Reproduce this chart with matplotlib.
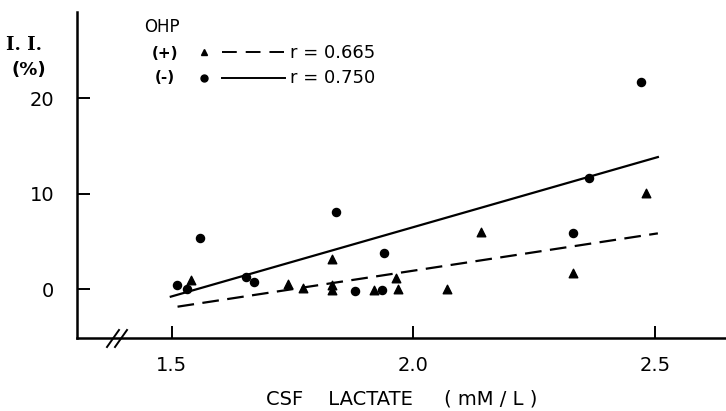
import numpy as np
import matplotlib
matplotlib.use("Agg")
import matplotlib.pyplot as plt
from matplotlib.lines import Line2D

# CSF lactate (mM/L) vs I.I. (%)
ohp_neg_x = [1.510, 1.532, 1.559, 1.653, 1.670, 1.839, 1.880, 1.935, 1.940, 2.331, 2.364, 2.471]
ohp_neg_y = [0.45, 0.0, 5.37, 1.26, 0.76, 8.06, -0.18, -0.07, 3.80, 5.86, 11.62, 21.68]

ohp_pos_x = [1.539, 1.740, 1.771, 1.832, 1.832, 1.832, 1.919, 1.964, 1.969, 2.069, 2.140, 2.331, 2.482]
ohp_pos_y = [0.97, 0.52, 0.10, 3.14, 0.45, -0.07, -0.07, 1.15, 0.0, 0.0, 6.03, 1.68, 10.12]

# regression lines (end points as drawn)
fit_neg_x = [1.498, 2.506]
fit_neg_y = [-0.77, 13.85]
fit_pos_x = [1.512, 2.506]
fit_pos_y = [-1.82, 5.86]

x_ticks = [1.5, 2.0, 2.5]
x_ticklabels = ["1.5", "2.0", "2.5"]
y_ticks = [0, 10, 20]

W, H = 726, 411


def px(x, y):
    # pixel position -> figure fraction
    return x / W, 1 - y / H


fig = plt.figure(figsize=(W / 100, H / 100), dpi=100)
ax = fig.add_axes([76.7 / W, 1 - 338.3 / H, 1 - 76.7 / W, (338.3 - 12) / H])

ax.scatter(ohp_neg_x, ohp_neg_y, marker="o", s=34, color="black", zorder=3)
ax.scatter(ohp_pos_x, ohp_pos_y, marker="^", s=38, color="black", zorder=3)
ax.plot(fit_neg_x, fit_neg_y, color="black", lw=1.6)
ax.plot(fit_pos_x, fit_pos_y, color="black", lw=1.6, linestyle=(0, (7.5, 3.8)))

ax.set_xlim(1.3033, 2.647)
ax.set_ylim(-5.13, 29.04)

for s in ["top", "right"]:
    ax.spines[s].set_visible(False)
for s in ["left", "bottom"]:
    ax.spines[s].set_linewidth(1.8)

ax.set_xticks(x_ticks)
ax.set_xticklabels(x_ticklabels)
ax.set_yticks(y_ticks)
ax.tick_params(axis="both", direction="in", length=9, width=1.4, labelsize=14)
ax.tick_params(axis="x", pad=13)
ax.tick_params(axis="y", pad=16)

ax.set_xlabel("CSF    LACTATE     ( mM / L )", fontsize=14, labelpad=10)

# axis break mark on x axis
for dx in (-4, 4):
    x0, y0 = px(117 + dx - 6, 347)
    x1, y1 = px(117 + dx + 6, 330)
    fig.add_artist(Line2D([x0, x1], [y0, y1], color="black", lw=1.4))

# y label
fig.text(*px(24, 45), "I. I.", fontsize=13, family="DejaVu Serif",
         weight="bold", ha="center", va="center")
fig.text(*px(29, 70), "(%)", fontsize=13, weight="bold", ha="center", va="center")

# legend
fig.text(*px(144, 27), "OHP", fontsize=12, ha="left", va="center")
fig.text(*px(165, 53), "(+)", fontsize=11, weight="semibold", ha="center", va="center")
fig.text(*px(165, 77), "(-)", fontsize=11, weight="semibold", ha="center", va="center")
fig.add_artist(Line2D([px(204, 0)[0]], [px(0, 52)[1]], marker="^", markersize=5,
                      color="black", linestyle="none"))
fig.add_artist(Line2D([px(204, 0)[0]], [px(0, 78)[1]], marker="o", markersize=5,
                      color="black", linestyle="none"))
fig.add_artist(Line2D([px(222, 0)[0], px(284, 0)[0]], [px(0, 52)[1]] * 2,
                      color="black", lw=1.4, linestyle=(0, (7.6, 4.6))))
fig.add_artist(Line2D([px(222, 0)[0], px(285, 0)[0]], [px(0, 78)[1]] * 2,
                      color="black", lw=1.4))
fig.text(*px(290, 53), "r = 0.665", fontsize=13, ha="left", va="center")
fig.text(*px(290, 78), "r = 0.750", fontsize=13, ha="left", va="center")

fig.savefig("out.png", dpi=100)
